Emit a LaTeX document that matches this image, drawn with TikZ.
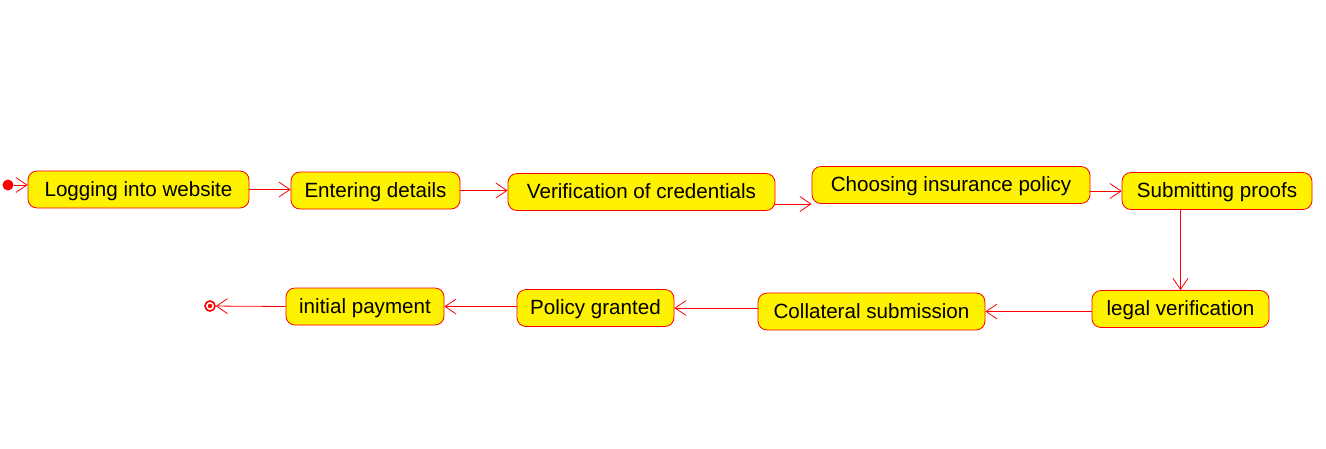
\documentclass[tikz,border=0pt]{standalone}
\usepackage{fontspec}
\setmainfont{Liberation Sans}
\usepackage{tikz}
\usetikzlibrary{arrows.meta, positioning, calc}

\begin{document}
\begin{tikzpicture}[
    x=1pt, y=-1pt,
    act/.style={draw=red, fill=yellow, rounded corners=9pt, line width=0.8pt,
        minimum height=37pt, inner sep=0pt, text height=16pt, text depth=3pt,
        font=\fontsize{20.6}{24}\selectfont},
    arr/.style={-{Straight Barb[length=11pt, width=15pt]}, red, line width=0.8pt},
]
\useasboundingbox (0,0) rectangle (1326,448);

% ---- start / end ----
\node[circle, fill=red, minimum size=11pt, inner sep=0pt] (start) at (8,185) {};
\node[circle, draw=red, fill=white, line width=1.6pt, minimum size=10pt,
    inner sep=0pt] (stop) at (210,306) {};
\fill[red] (stop) circle (2.2pt);

% ---- top row ----
\node[act, minimum width=221pt] (login)   at (138.5,189.5) {Logging into website};
\node[act, minimum width=169pt] (details) at (375.5,190.5) {Entering details};
\node[act, minimum width=267pt] (verify)  at (641.5,192)   {Verification of credentials};
\node[act, minimum width=278pt] (choose)  at (951,185)     {Choosing insurance policy};
\node[act, minimum width=190pt] (proofs)  at (1217,191)    {Submitting proofs};

% ---- bottom row ----
\node[act, minimum width=177pt] (legal)   at (1180.5,309)  {legal verification};
\node[act, minimum width=227pt] (collat)  at (871.5,311.5) {Collateral submission};
\node[act, minimum width=157pt] (granted) at (595.5,308)   {Policy granted};
\node[act, minimum width=158pt] (payment) at (365,306.5)   {initial payment};

% top row arrows
\draw[arr] (start) -- (start -| login.west);
\draw[arr] (login) -- (login -| details.west);
\draw[arr] (details) -- (details -| verify.west);
\draw[arr] ([yshift=-12pt]verify.east) -- ([yshift=-12pt]verify.east -| choose.west);
\draw[arr] (proofs -| choose.east) -- (proofs.west);

% down and back along the bottom row
\draw[arr] (legal |- proofs.south) -- (legal.north);
\draw[arr] (collat -| legal.west) -- (collat.east);
\draw[arr] (granted -| collat.west) -- (granted.east);
\draw[arr] (payment -| granted.west) -- (payment.east);
\draw[arr] (payment.west) -- (stop);

\end{tikzpicture}
\end{document}
